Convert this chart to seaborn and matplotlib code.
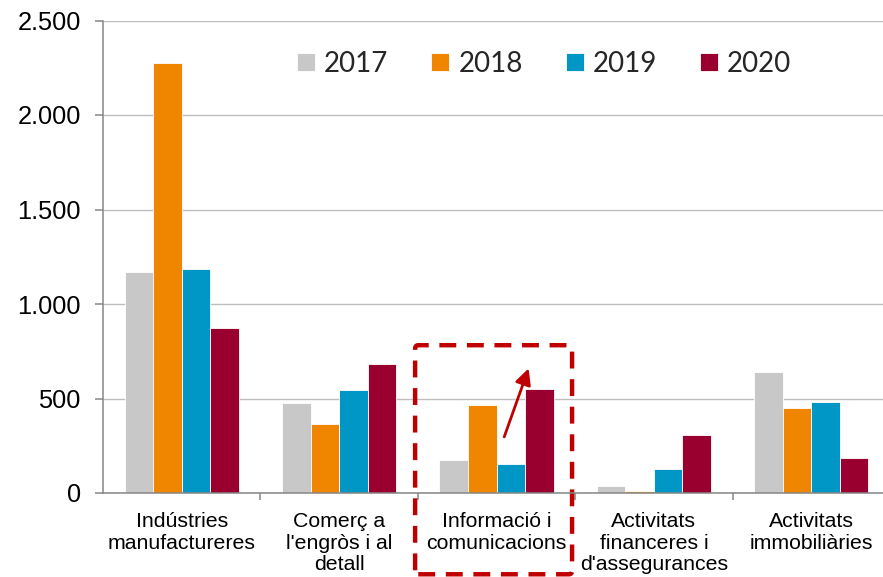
import matplotlib

matplotlib.use("Agg")
import matplotlib.pyplot as plt
import pandas as pd
import seaborn as sns
from matplotlib.patches import FancyBboxPatch
from matplotlib.ticker import FuncFormatter, FixedLocator

sectors = [
    "Indústries\nmanufactureres",
    "Comerç a\nl'engròs i al\ndetall",
    "Informació i\ncomunicacions",
    "Activitats\nfinanceres i\nd'assegurances",
    "Activitats\nimmobiliàries",
]
years = ["2017", "2018", "2019", "2020"]
values_2017 = [1168, 476, 174, 37, 641]
values_2018 = [2273, 365, 465, 8, 448]
values_2019 = [1184, 544, 153, 125, 479]
values_2020 = [872, 682, 550, 309, 184]
colors = ["#C8C8C8", "#F08500", "#0096C6", "#990030"]

rows = []
for year, vals in zip(years, [values_2017, values_2018, values_2019, values_2020]):
    for sector, v in zip(sectors, vals):
        rows.append({"sector": sector, "year": year, "value": v})
df = pd.DataFrame(rows)

sns.set_theme(style="white")
plt.rcParams["font.family"] = ["Liberation Sans", "DejaVu Sans"]

fig = plt.figure(figsize=(8.83, 5.77), dpi=100)
ax = fig.add_axes([103 / 883, 1 - 493 / 577, 787 / 883, 472.5 / 577])

sns.barplot(
    data=df, x="sector", y="value", hue="year", order=sectors, hue_order=years,
    palette=colors, width=0.725, gap=0, edgecolor="white", linewidth=0.6,
    saturation=1, ax=ax,
)

ax.set_xlim(-0.5, 4.5)
ax.set_ylim(0, 2500)
ax.set_xlabel("")
ax.set_ylabel("")
ax.yaxis.set_major_locator(FixedLocator([0, 500, 1000, 1500, 2000, 2500]))
ax.yaxis.set_major_formatter(FuncFormatter(lambda v, _: f"{v:,.0f}".replace(",", ".")))
ax.grid(axis="y", color="#BEBEBE", linewidth=1.0)
ax.set_axisbelow(True)
for side in ["top", "right"]:
    ax.spines[side].set_visible(False)
for side in ["left", "bottom"]:
    ax.spines[side].set_color("#868686")
    ax.spines[side].set_linewidth(1.1)

ax.tick_params(axis="y", which="major", left=True, length=6, width=1.1, color="#868686",
               labelsize=18.3, pad=10, labelcolor="black")
ax.tick_params(axis="x", which="major", bottom=False, labelsize=15.3, pad=8, labelcolor="black")
ax.set_xticks(range(len(sectors)))
ax.set_xticklabels(sectors, linespacing=1.15)
ax.set_xticks([0.5, 1.5, 2.5, 3.5], minor=True)
ax.tick_params(axis="x", which="minor", bottom=True, length=5, width=1.1, color="#868686")

handles, labels = ax.get_legend_handles_labels()
ax.legend(
    handles, labels, loc="upper left", bbox_to_anchor=(297 / 883, 1 - 51 / 577),
    bbox_transform=fig.transFigure, ncol=4, frameon=False, borderpad=0, borderaxespad=0,
    handlelength=0.64, handleheight=0.64, handletextpad=0.33, columnspacing=1.55,
    prop={"family": "Lato", "size": 20},
)

# highlight box and arrow around the ICT group
box = FancyBboxPatch((1.483, -430), 0.997, 1212, boxstyle="round,pad=0,rounding_size=0.02",
                     fill=False, edgecolor="#C00000", linewidth=3.2, linestyle=(0, (3.8, 2.4)),
                     clip_on=False, mutation_aspect=1000)
ax.add_patch(box)
ax.annotate("", xy=(2.204, 659), xytext=(2.049, 297),
            arrowprops=dict(arrowstyle="-|>,head_length=0.8,head_width=0.4", color="#C00000",
                            lw=2, shrinkA=0, shrinkB=0))

fig.savefig("out.png", dpi=100)
